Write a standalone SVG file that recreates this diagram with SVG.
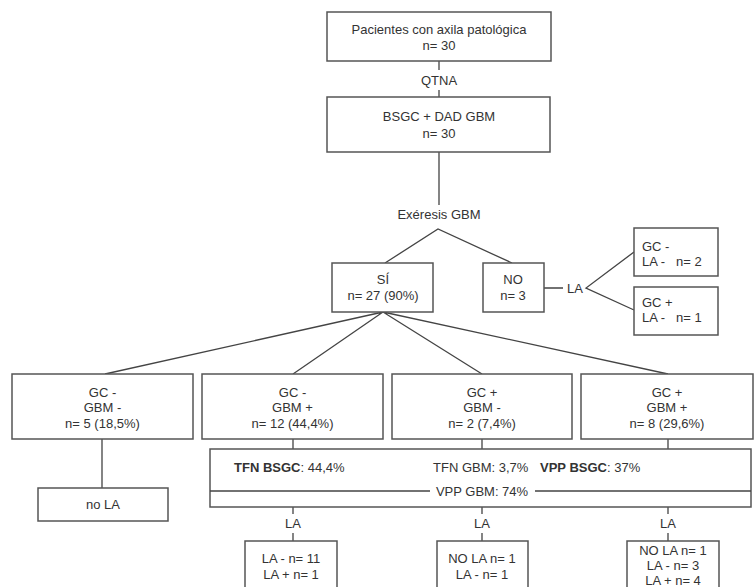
<svg xmlns="http://www.w3.org/2000/svg" width="754" height="587" viewBox="0 0 754 587">
<style>
.b{fill:#fff;stroke:#555;stroke-width:1.5}
.l{fill:none;stroke:#444;stroke-width:1.3}
text{font-family:"Liberation Sans",Arial,sans-serif;font-size:13px;fill:#333}
.c{text-anchor:middle}
.bd{font-weight:bold}
</style>
<rect width="754" height="587" fill="#fff"/>
<g id="connectors">
<path class="l" d="M439 61V70M439 90V97M439 152V205"/>
<path class="l" d="M385 263L438 229L512 263"/>
<path class="l" d="M544 288H563M634 252L586 288L634 310"/>
<path class="l" d="M383 312L105 374M383 312L293 374M383 312L482 374M383 312L668 374"/>
<path class="l" d="M293 439V449M482 439V449M668 439V449M102 439V488"/>
<path class="l" d="M293 507V514M293 533V541M482 507V514M482 533V541M668 507V514M668 533V541"/>
</g>
<g id="n-pacientes"><rect class="b" x="327" y="12" width="224" height="49"/>
<text class="c" x="439" y="34">Pacientes con axila patológica</text><text class="c" x="439" y="50">n= 30</text></g>
<g id="l-qtna"><text class="c" x="439" y="85">QTNA</text></g>
<g id="n-bsgc"><rect class="b" x="327" y="97" width="223" height="55"/>
<text class="c" x="439" y="121">BSGC + DAD GBM</text><text class="c" x="439" y="138">n= 30</text></g>
<g id="l-exeresis"><text class="c" x="439" y="219">Exéresis GBM</text></g>
<g id="n-si"><rect class="b" x="332" y="263" width="101" height="49"/>
<text class="c" x="383" y="284">SÍ</text><text class="c" x="383" y="300">n= 27 (90%)</text></g>
<g id="n-no"><rect class="b" x="483" y="263" width="61" height="49"/>
<text class="c" x="513" y="284">NO</text><text class="c" x="513" y="300">n= 3</text></g>
<g id="l-la-no"><text class="c" x="575" y="293">LA</text></g>
<g id="n-gcneg-la"><rect class="b" x="634" y="228" width="84" height="48"/>
<text x="642" y="251">GC -</text><text x="642" y="266" xml:space="preserve">LA -   n= 2</text></g>
<g id="n-gcpos-la"><rect class="b" x="634" y="287" width="84" height="48"/>
<text x="642" y="307">GC +</text><text x="642" y="322" xml:space="preserve">LA -   n= 1</text></g>
<g id="n-g1"><rect class="b" x="12" y="374" width="181" height="65"/>
<text class="c" x="102.5" y="397">GC -</text><text class="c" x="102.5" y="412">GBM -</text><text class="c" x="102.5" y="428">n= 5 (18,5%)</text></g>
<g id="n-g2"><rect class="b" x="202" y="374" width="181" height="65"/>
<text class="c" x="292.5" y="397">GC -</text><text class="c" x="292.5" y="412">GBM +</text><text class="c" x="292.5" y="428">n= 12 (44,4%)</text></g>
<g id="n-g3"><rect class="b" x="392" y="374" width="180" height="65"/>
<text class="c" x="482" y="397">GC +</text><text class="c" x="482" y="412">GBM -</text><text class="c" x="482" y="428">n= 2 (7,4%)</text></g>
<g id="n-g4"><rect class="b" x="581" y="374" width="172" height="65"/>
<text class="c" x="667" y="397">GC +</text><text class="c" x="667" y="412">GBM +</text><text class="c" x="667" y="428">n= 8 (29,6%)</text></g>
<g id="n-stats"><rect class="b" x="210" y="449" width="541" height="58"/>
<path class="l" d="M210 491H430M535 491H751"/>
<text x="234" y="472"><tspan class="bd">TFN BSGC</tspan>: 44,4%</text>
<text x="433" y="472">TFN GBM: 3,7%</text>
<text x="540" y="472"><tspan class="bd">VPP BSGC</tspan>: 37%</text>
<text class="c" x="482" y="496">VPP GBM: 74%</text></g>
<g id="n-nola"><rect class="b" x="38" y="488" width="130" height="33"/>
<text class="c" x="103" y="509">no LA</text></g>
<g id="l-la-1"><text class="c" x="293" y="528">LA</text></g>
<g id="l-la-2"><text class="c" x="482" y="528">LA</text></g>
<g id="l-la-3"><text class="c" x="668" y="528">LA</text></g>
<g id="n-r1"><rect class="b" x="245" y="541" width="92" height="60"/>
<text class="c" x="291" y="563">LA - n= 11</text><text class="c" x="291" y="579">LA + n= 1</text></g>
<g id="n-r2"><rect class="b" x="437" y="541" width="91" height="60"/>
<text class="c" x="482" y="563">NO LA n= 1</text><text class="c" x="482" y="579">LA - n= 1</text></g>
<g id="n-r3"><rect class="b" x="627" y="541" width="92" height="60"/>
<text class="c" x="673" y="555">NO LA n= 1</text><text class="c" x="673" y="570">LA - n= 3</text><text class="c" x="673" y="585">LA + n= 4</text></g>
</svg>
